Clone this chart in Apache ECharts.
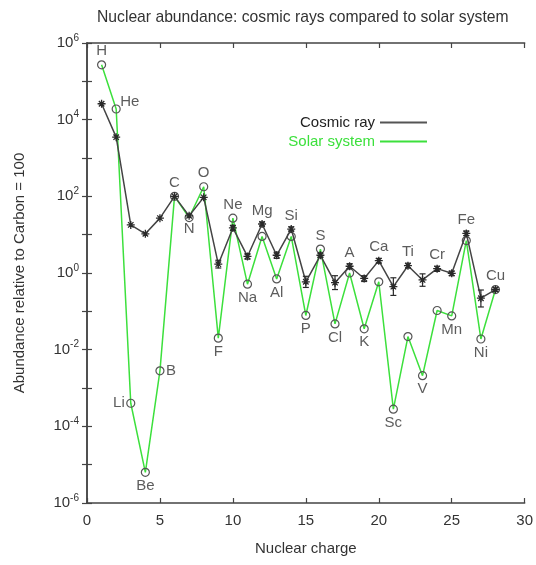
<!DOCTYPE html>
<html>
<head>
<meta charset="utf-8">
<script src="https://cdn.jsdelivr.net/npm/echarts@6/dist/echarts.min.js"></script>
<style>
html,body{margin:0;padding:0;background:#fff;}
#chart{width:536px;height:565px;}
</style>
</head>
<body>
<div id="chart"></div>
<script>
// ---- data ----
const charges = [1,2,3,4,5,6,7,8,9,10,11,12,13,14,15,16,17,18,19,20,21,22,23,24,25,26,27,28];
const elements = ['H','He','Li','Be','B','C','N','O','F','Ne','Na','Mg','Al','Si','P','S','Cl','A','K','Ca','Sc','Ti','V','Cr','Mn','Fe','Ni','Cu'];
const cosmicRay = [2.6e4,3.5e3,18,10.5,27,100,31,94,1.7,15,2.7,19,2.9,14,0.59,2.9,0.56,1.5,0.72,2.1,0.44,1.55,0.66,1.3,0.98,10.8,0.22,0.37];
const cosmicErrLow  = [null,null,null,null,null,null,null,null,1.35,13,2.3,17,2.4,12.5,0.42,2.6,0.37,1.3,0.6,1.8,0.26,1.35,0.45,1.1,0.85,9.5,0.13,0.33];
const cosmicErrHigh = [null,null,null,null,null,null,null,null,2.15,17.5,3.2,21.5,3.5,16,0.82,3.3,0.85,1.75,0.85,2.4,0.75,1.8,0.95,1.5,1.12,12.5,0.36,0.41];
const solarSystem = [2.7e5,1.9e4,4e-4,6.3e-6,2.8e-3,100,28,178,0.02,27,0.51,9,0.7,9,0.078,4.2,0.047,1.0,0.035,0.59,2.8e-4,0.022,2.1e-3,0.105,0.076,7,0.019,0.37];
const xTicks = [0,5,10,15,20,25,30];
const yTickExponents = [-6,-4,-2,0,2,4,6];
// label anchor: which series ('s' solar / 'c' cosmic) and side
const labelAnchor = ['s','s','s','s','s','c','c','s','s','s','s','c','s','c','s','s','s','c','s','c','s','c','s','c','s','c','s','c'];
const labelSide = ['top','right','left','bottom','right','top','bottom','top','bottom','top','bottom','top','bottom','top','bottom','top','bottom','top','bottom','top','bottom','top','bottom','top','bottom','top','bottom','top'];

const GREEN = '#3ce03c';
const DARK = '#2a2a2a';
const TXT = '#333';

const cosmicData = charges.map((z,i)=>[z,cosmicRay[i]]);
const solarData = charges.map((z,i)=>[z,solarSystem[i]]);
const errData = charges.map((z,i)=>[z,cosmicErrLow[i],cosmicErrHigh[i]]).filter(d=>d[1]!=null);
const labelData = charges.map((z,i)=>{
  const v = labelAnchor[i]==='s' ? solarSystem[i] : cosmicRay[i];
  const side = labelSide[i];
  const item = {value:[z,v], label:{position:side, distance:2}};
  if (elements[i]==='He') item.label.offset=[-2,-7];
  return item;
});

function yLabel(v){
  const e = Math.round(Math.log10(v));
  if (yTickExponents.indexOf(e) < 0) return '';
  return '10{s|' + e + '}';
}

const asterisk = 'path://M5,0L5,10M0,5L10,5M1.6,1.6L8.4,8.4M1.6,8.4L8.4,1.6';

const chart = echarts.init(document.getElementById('chart'), null, {renderer:'canvas'});
const yBase = {
  type:'log', logBase:10, min:1e-6, max:1e6, interval:1,
  axisLine:{show:true, lineStyle:{color:'#444', width:1.5}},
  axisTick:{show:true, inside:true, length:5, lineStyle:{color:'#444', width:1.2}},
  splitLine:{show:false}
};
const xBase = {
  type:'value', min:0, max:30, interval:5,
  axisLine:{show:true, onZero:false, lineStyle:{color:'#444', width:1.5}},
  axisTick:{show:true, inside:true, length:5, lineStyle:{color:'#444', width:1.2}},
  splitLine:{show:false}
};
chart.setOption({
  animation:false,
  backgroundColor:'#fff',
  title:{
    text:'Nuclear abundance: cosmic rays compared to solar system',
    left:92, top:5,
    textStyle:{fontFamily:'Liberation Sans', fontSize:15.7, fontWeight:'normal', color:TXT}
  },
  legend:{
    orient:'vertical', right:104, top:110, align:'right', itemGap:4,
    icon:'rect', itemWidth:47, itemHeight:2,
    textStyle:{fontFamily:'Liberation Sans', fontSize:15},
    data:[
      {name:'Cosmic ray', itemStyle:{color:'#555', borderColor:'#555', borderWidth:0}, textStyle:{color:'#222'}},
      {name:'Solar system', itemStyle:{color:GREEN, borderColor:GREEN, borderWidth:0}, textStyle:{color:GREEN}}
    ]
  },
  grid:{left:87, right:10, top:43, bottom:62, containLabel:false},
  xAxis:[
    Object.assign({}, xBase, {
      position:'bottom',
      name:'Nuclear charge', nameLocation:'middle', nameGap:38,
      nameTextStyle:{fontFamily:'Liberation Sans', fontSize:15, color:TXT},
      axisLabel:{show:true, margin:10, fontFamily:'Liberation Sans', fontSize:15, color:TXT,
        formatter:v=> xTicks.indexOf(v)>=0 ? String(v) : ''}
    }),
    Object.assign({}, xBase, {position:'top', axisLabel:{show:false}})
  ],
  yAxis:[
    Object.assign({}, yBase, {
      position:'left',
      name:'Abundance relative to Carbon = 100', nameLocation:'middle', nameGap:60, nameRotate:90,
      nameTextStyle:{fontFamily:'Liberation Sans', fontSize:15, color:TXT},
      axisLabel:{show:true, margin:8, fontFamily:'Liberation Sans', fontSize:15, color:TXT,
        formatter:yLabel,
        rich:{s:{fontSize:10, verticalAlign:'top', padding:[0,0,10,0], fontFamily:'Liberation Sans', color:TXT}}}
    }),
    Object.assign({}, yBase, {position:'right', axisLabel:{show:false}})
  ],
  series:[
    {
      name:'Solar system', type:'line', data:solarData, z:2,
      symbol:'circle', symbolSize:8,
      lineStyle:{color:GREEN, width:1.5},
      itemStyle:{color:'rgba(0,0,0,0)', borderColor:'#555', borderWidth:1.2}
    },
    {
      name:'Cosmic ray', type:'line', data:cosmicData, z:3,
      symbol:asterisk, symbolSize:8,
      lineStyle:{color:'#444', width:1.5},
      itemStyle:{color:DARK, borderColor:DARK, borderWidth:1.3}
    },
    {
      name:'errors', type:'custom', z:4,
      data:errData, encode:{x:0, y:[1,2]},
      renderItem:function(params, api){
        const x = api.value(0);
        const p1 = api.coord([x, api.value(1)]);
        const p2 = api.coord([x, api.value(2)]);
        const w = 3;
        const st = {stroke:DARK, lineWidth:1.2};
        return {type:'group', children:[
          {type:'line', shape:{x1:p1[0], y1:p1[1], x2:p2[0], y2:p2[1]}, style:st},
          {type:'line', shape:{x1:p1[0]-w, y1:p1[1], x2:p1[0]+w, y2:p1[1]}, style:st},
          {type:'line', shape:{x1:p2[0]-w, y1:p2[1], x2:p2[0]+w, y2:p2[1]}, style:st}
        ]};
      }
    },
    {
      name:'labels', type:'scatter', z:5, data:labelData,
      symbolSize:8, itemStyle:{color:'rgba(0,0,0,0)'},
      label:{show:true, fontFamily:'Liberation Sans', fontSize:15, color:TXT,
        formatter:p=>elements[p.dataIndex]},
      silent:true
    }
  ]
});
</script>
</body>
</html>
